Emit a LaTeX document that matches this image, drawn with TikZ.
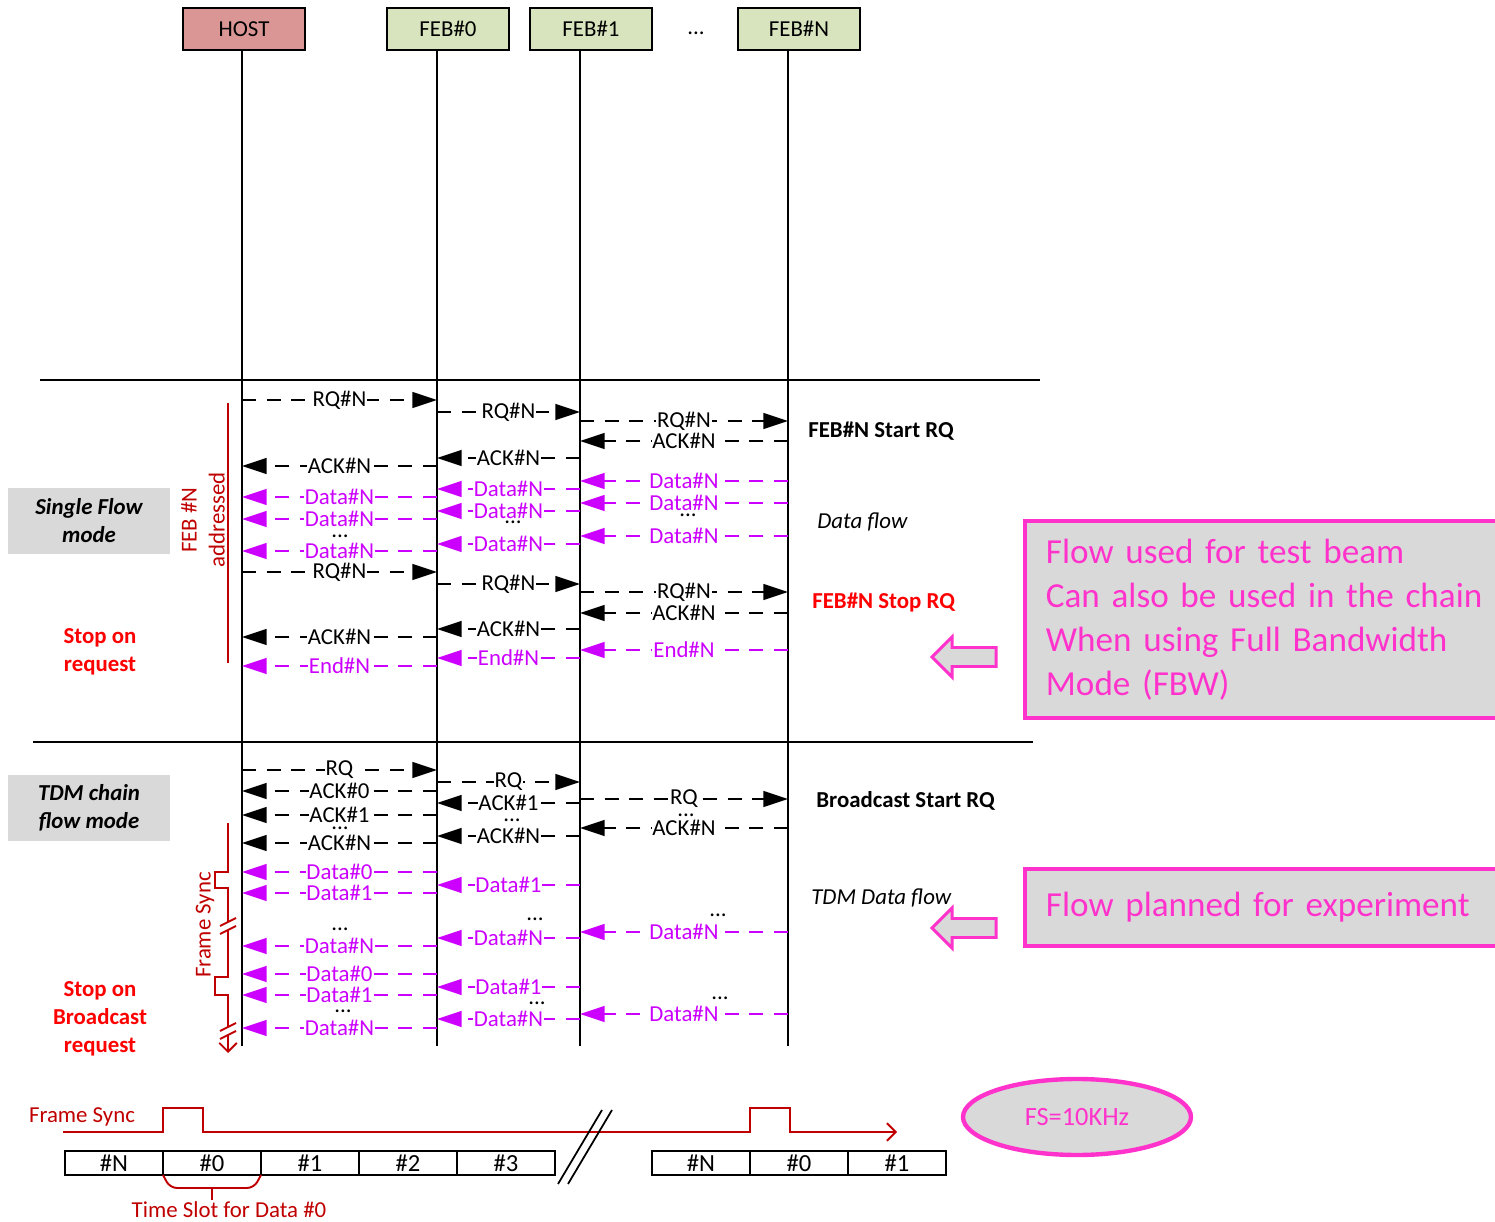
\documentclass[tikz,border=0pt]{standalone}
\usepackage{fontspec}
\setmainfont{Carlito}
\usetikzlibrary{arrows.meta,shapes.geometric,positioning}

\definecolor{hostred}{RGB}{217,150,148}
\definecolor{febgreen}{RGB}{215,228,189}
\definecolor{datamag}{RGB}{204,0,255}
\definecolor{hotpink}{RGB}{255,51,204}
\definecolor{boxgray}{RGB}{217,217,217}
\definecolor{darkred}{RGB}{192,0,0}

\begin{document}
\begin{tikzpicture}[
        x=0.02cm, y=-0.02cm,
        every node/.style={font=\fontsize{13}{16}\selectfont},
        unit/.style={draw, line width=1pt, minimum width=2.44cm, minimum height=0.84cm, inner sep=0pt},
        life/.style={line width=1pt},
        msg/.style={line width=1pt, dash pattern=on 8pt off 6pt, -{Triangle[length=14pt,width=9pt]}},
        cmd/.style={msg, black},
        dat/.style={msg, datamag},
        lbl/.style={fill=white, inner sep=0.5pt},
        dlbl/.style={lbl, text=datamag},
        dots/.style={anchor=base, inner sep=0pt},
        mode/.style={fill=boxgray, minimum width=3.24cm, minimum height=1.34cm, align=center,
            font=\fontsize{13}{16}\selectfont\bfseries\itshape},
        stop/.style={text=red, align=center, font=\fontsize{13}{16}\selectfont\bfseries},
        note/.style={anchor=west, inner sep=0pt},
        pinkbox/.style={draw=hotpink, line width=2.2pt, fill=boxgray, text=hotpink, anchor=north west,
            align=left, inner xsep=0.42cm, font=\fontsize{20}{25}\selectfont},
        hollow/.style={draw=hotpink, line width=1.7pt, fill=boxgray},
        sync/.style={darkred, line width=1.1pt},
        slot/.style={draw, line width=1pt, minimum width=1.96cm, minimum height=0.48cm, inner sep=0pt,
            font=\fontsize{14}{16}\selectfont},
        >=stealth
    ]

        \useasboundingbox (0,0) rectangle (1495,1222);

        %--------------------------------
        % units and life lines
        %--------------------------------
        \node[unit, fill=hostred] (host) at (244,29) {HOST};
        \node[unit, fill=febgreen] (feb0) at (448,29) {FEB\#0};
        \node[unit, fill=febgreen] (feb1) at (591,29) {FEB\#1};
        \node (hdots) at (696,33) {...};
        \node[unit, fill=febgreen] (febn) at (799,29) {FEB\#N};

        \foreach \nm/\x in {lhost/242, lfeb0/437, lfeb1/580, lfebn/788} {
            \coordinate (\nm) at (\x,50);
            \draw[life] (\nm) -- ++(0,996);
        }

        \coordinate (sepa) at (40,380);
        \coordinate (sepb) at (1040,380);
        \coordinate (sepc) at (33,742);
        \coordinate (sepd) at (1033,742);
        \draw[life] (sepa) -- (sepb);
        \draw[life] (sepc) -- (sepd);

        %--------------------------------
        % Single Flow mode
        %--------------------------------
        \node[mode] (single) at (89,521) {Single Flow\\mode};
        \node[stop] (stop1) at (100,652) {Stop on\\request};
        \node[rotate=90, text=darkred, align=center] (addr) at (203,520) {FEB \#N\\addressed};
        \draw[sync] (228,403) -- (228,663);

        \foreach \p/\q/\y/\m [count=\i] in {lhost/lfeb0/400/RQ\#N, lfeb0/lfeb1/412/RQ\#N,
                lfeb1/lfebn/421/RQ\#N, lhost/lfeb0/572/RQ\#N, lfeb0/lfeb1/584/RQ\#N,
                lfeb1/lfebn/592/RQ\#N, lfebn/lfeb1/441/ACK\#N, lfeb1/lfeb0/458/ACK\#N,
                lfeb0/lhost/466/ACK\#N, lfebn/lfeb1/613/ACK\#N, lfeb1/lfeb0/629/ACK\#N,
                lfeb0/lhost/637/ACK\#N}
            \draw[cmd] (\p |- 0,\y) -- node[lbl] (sc\i) {\m} (\q |- 0,\y);

        \foreach \p/\q/\y/\m [count=\i] in {lfebn/lfeb1/481/Data\#N, lfebn/lfeb1/503/Data\#N,
                lfebn/lfeb1/536/Data\#N, lfeb1/lfeb0/489/Data\#N, lfeb1/lfeb0/511/Data\#N,
                lfeb1/lfeb0/544/Data\#N, lfeb0/lhost/497/Data\#N, lfeb0/lhost/519/Data\#N,
                lfeb0/lhost/551/Data\#N, lfebn/lfeb1/650/End\#N, lfeb1/lfeb0/658/End\#N,
                lfeb0/lhost/666/End\#N}
            \draw[dat] (\p |- 0,\y) -- node[dlbl] (sd\i) {\m} (\q |- 0,\y);

        \node[dots] (sdot1) at (340,538) {...};
        \node[dots] (sdot2) at (513,524) {...};
        \node[dots] (sdot3) at (688,517) {...};

        \node[note, font=\fontsize{13}{16}\selectfont\bfseries] (start1) at (808,431) {FEB\#N Start RQ};
        \node[note, font=\fontsize{13}{16}\selectfont\itshape] (flow1) at (817,522) {Data flow};
        \node[note, text=red, font=\fontsize{13}{16}\selectfont\bfseries] (stopn) at (812,603) {FEB\#N Stop RQ};

        %--------------------------------
        % TDM chain flow mode
        %--------------------------------
        \node[mode] (tdm) at (89,808) {TDM chain\\flow mode};
        \node[stop] (stop2) at (100,1019) {Stop on\\Broadcast\\request};
        \node[rotate=90, text=darkred] (fsync) at (205,925) {Frame Sync};
        \draw[sync] (228,823) -- (228,872) -- (215,872) -- (215,888) -- (228,888) -- (228,922);
        \draw[sync] (228,930) -- (228,977) -- (215,977) -- (215,995) -- (228,995) -- (228,1027);
        \draw[sync, -{Straight Barb[length=5pt,width=10pt]}] (228,1035) -- (228,1053);
        \draw[sync] (220,926) -- (236,918) (220,934) -- (236,926);
        \draw[sync] (220,1031) -- (236,1023) (220,1039) -- (236,1031);

        \foreach \p/\q/\y/\m [count=\i] in {lhost/lfeb0/770/RQ, lfeb0/lfeb1/782/RQ,
                lfeb1/lfebn/799/RQ, lfeb0/lhost/791/ACK\#0, lfeb0/lhost/815/ACK\#1,
                lfeb0/lhost/843/ACK\#N, lfeb1/lfeb0/803/ACK\#1, lfeb1/lfeb0/836/ACK\#N,
                lfebn/lfeb1/828/ACK\#N}
            \draw[cmd] (\p |- 0,\y) -- node[lbl] (tc\i) {\m} (\q |- 0,\y);

        \foreach \p/\q/\y/\m [count=\i] in {lfeb0/lhost/872/Data\#0, lfeb0/lhost/893/Data\#1,
                lfeb0/lhost/946/Data\#N, lfeb0/lhost/974/Data\#0, lfeb0/lhost/995/Data\#1,
                lfeb0/lhost/1028/Data\#N, lfeb1/lfeb0/885/Data\#1, lfeb1/lfeb0/938/Data\#N,
                lfeb1/lfeb0/987/Data\#1, lfeb1/lfeb0/1019/Data\#N, lfebn/lfeb1/932/Data\#N,
                lfebn/lfeb1/1014/Data\#N}
            \draw[dat] (\p |- 0,\y) -- node[dlbl] (td\i) {\m} (\q |- 0,\y);

        \foreach \x/\y [count=\i] in {340/830, 512/822, 686/817, 340/930, 343/1012,
                535/921, 537/1004, 718/916, 720/999}
            \node[dots] (tdot\i) at (\x,\y) {...};

        \node[note, font=\fontsize{13}{16}\selectfont\bfseries] (start2) at (816,801) {Broadcast Start RQ};
        \node[note, font=\fontsize{13}{16}\selectfont\itshape] (flow2) at (811,898) {TDM Data flow};

        %--------------------------------
        % remarks
        %--------------------------------
        \foreach \cy in {657,928}
            \draw[hollow] (932,\cy) -- (952,\cy-20) -- (952,\cy-9.5) -- (996,\cy-9.5)
                -- (996,\cy+9.5) -- (952,\cy+9.5) -- (952,\cy+20) -- cycle;

        \node[pinkbox, minimum height=3.94cm, text width=9.4cm] (fbw) at (1023,519)
            {Flow used for test beam\\Can also be used in the chain\\When using Full Bandwidth\\Mode (FBW)};
        \node[pinkbox, minimum height=1.54cm, text width=9.4cm] (plan) at (1023,867)
            {Flow planned for experiment};

        %--------------------------------
        % frame sync time line
        %--------------------------------
        \node[text=darkred] (fstxt) at (82,1117) {Frame Sync};
        \draw[sync, -{Straight Barb[length=5pt,width=10pt]}] (63,1132) -- (163,1132) -- (163,1108)
            -- (203,1108) -- (203,1132) -- (750,1132) -- (750,1108) -- (790,1108) -- (790,1132) -- (897,1132);

        \foreach \t [count=\i] in {\#N,\#0,\#1,\#2,\#3}
            \node[slot] (sa\i) at (16+98*\i,1163) {\t};
        \foreach \t [count=\i] in {\#N,\#0,\#1}
            \node[slot] (sb\i) at (603+98*\i,1163) {\t};

        \draw[line width=1pt] (558,1184) -- (602,1110) (568,1184) -- (612,1110);

        \draw[sync, rounded corners=4pt] (163,1175) -- (170,1188) -- (254,1188) -- (261,1175);
        \draw[sync] (212,1188) -- (212,1200);
        \node[text=darkred] (tslot) at (229,1210) {Time Slot for Data \#0};

        \node[ellipse, draw=hotpink, line width=2.5pt, fill=boxgray, text=hotpink,
            minimum width=4.56cm, minimum height=1.52cm, font=\fontsize{15}{18}\selectfont] (fs) at (1077,1117) {FS=10KHz};

    \end{tikzpicture}
\end{document}
